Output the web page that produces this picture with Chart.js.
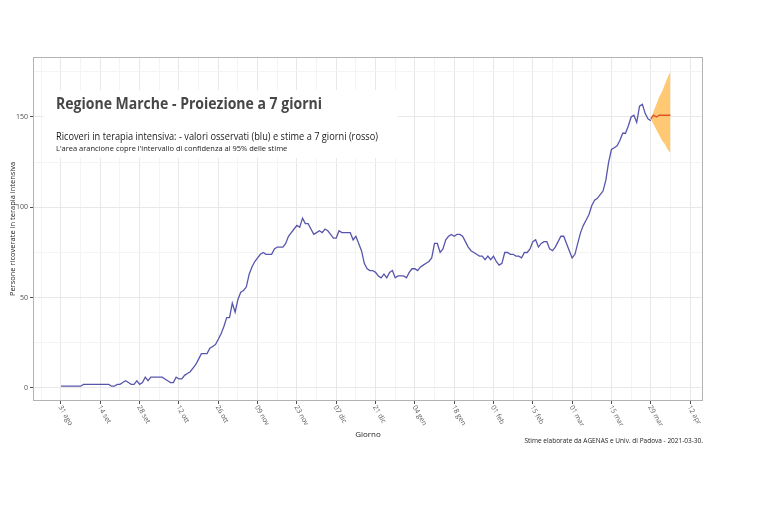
<!DOCTYPE html>
<html><head><meta charset="utf-8">
<script src="https://cdn.jsdelivr.net/npm/chart.js@4.4.0/dist/chart.umd.min.js"></script>
<style>html,body{margin:0;padding:0;background:#fff;}#wrap{position:relative;width:769px;height:513px;}</style>
</head><body><div id="wrap"><canvas id="c" width="769" height="513"></canvas></div>
<script>
// ---- data (days counted from 31 ago 2020) ----
const observedStartDay = 0;
const observed = [
 1,1,1,1,1,1,1,1,
 2,2,2,2,2,2,2,2,2,
 2,1,1,2,2,3,4,3,2,2,4,2,3,6,4,6,6,6,6,6,5,4,3,3,
 6,5,5,7,8,9,11,13,16,19,19,19,22,23,24,27,30,34,39,39,
 47,42,49,53,54,56,63,67,70,72,74,75,74,74,74,77,78,78,78,80,
 84,86,88,90,89,94,91,91,88,85,86,87,86,88,87,85,83,83,87,86,
 86,86,86,82,84,80,76,69,66,65,65,64,62,61,63,61,64,65,61,62,
 62,62,61,64,66,66,65,67,68,69,70,72,80,80,75,77,82,84,85,84,
 85,85,84,81,78,76,75,74,73,73,71,73,71,73,70,68,69,75,75,74,
 74,73,73,72,75,75,77,81,82,78,80,81,81,77,76,78,81,84,84,80,
 76,72,74,80,86,90,93,96,101,104,105,107,109,115,125,132,133,134,137,141,
 141,145,150,151,147,156,157,152,149,148
];
const projDays  = [210,211,212,213,214,215,216,217];
const projMean  = [149,151,150,151,151,151,151,151];
const projUpper = [149,153,157,161,164,168,172,175];
const projLower = [149,146,143,140,137,135,132,130];
const xTickLabels = ['31 ago','14 set','28 set','12 ott','26 ott','09 nov','23 nov','07 dic','21 dic','04 gen','18 gen','01 feb','15 feb','01 mar','15 mar','29 mar','12 apr'];
const yTickLabels = ['0','50','100','150'];

const titleText = 'Regione Marche - Proiezione a 7 giorni';
const subText1 = 'Ricoveri in terapia intensiva: - valori osservati (blu) e stime a 7 giorni (rosso)';
const subText2 = "L'area arancione copre l'intervallo di confidenza al 95% delle stime";
const captionText = 'Stime elaborate da AGENAS e Univ. di Padova - 2021-03-30.';

const obsPts = observed.map((v, i) => ({x: observedStartDay + i, y: v}));
const meanPts = projDays.map((d, i) => ({x: d, y: projMean[i]}));
const upPts = projDays.map((d, i) => ({x: d, y: projUpper[i]}));
const loPts = projDays.map((d, i) => ({x: d, y: projLower[i]}));

const FONT = "'Open Sans', 'DejaVu Sans', sans-serif";

const overlay = {
  id: 'overlay',
  beforeDatasetsDraw(chart) {
    const ctx = chart.ctx;
    ctx.save();
    ctx.fillStyle = '#ffffff';
    ctx.fillRect(44, 90, 354, 68);
    ctx.textAlign = 'left';
    ctx.textBaseline = 'alphabetic';
    ctx.fillStyle = '#474747';
    ctx.font = "bold 16px " + FONT;
    ctx.fillText(titleText, 56, 109, 266);
    ctx.fillStyle = '#1a1a1a';
    ctx.font = "10.5px " + FONT;
    ctx.fillText(subText1, 56, 140, 322);
    ctx.font = "7.5px " + FONT;
    ctx.fillText(subText2, 56, 151, 232);
    ctx.restore();
  },
  afterDraw(chart) {
    const ctx = chart.ctx;
    const a = chart.chartArea;
    const xs = chart.scales.x;
    ctx.save();
    // panel border
    ctx.strokeStyle = '#b3b3b3';
    ctx.lineWidth = 1;
    ctx.strokeRect(a.left + 0.5, a.top + 0.5, a.right - a.left - 1, a.bottom - a.top - 1);
    // rotated x tick labels
    ctx.fillStyle = '#5a5a5a';
    ctx.font = "7px " + FONT;
    ctx.textAlign = 'left';
    ctx.textBaseline = 'middle';
    xTickLabels.forEach((lab, i) => {
      const px = xs.getPixelForValue(i * 14);
      ctx.save();
      ctx.translate(px - 1, a.bottom + 5);
      ctx.rotate(60 * Math.PI / 180);
      ctx.fillText(lab, 0, 0);
      ctx.restore();
    });
    // caption
    ctx.fillStyle = '#1a1a1a';
    ctx.font = "6.5px " + FONT;
    ctx.textAlign = 'right';
    ctx.textBaseline = 'alphabetic';
    ctx.fillText(captionText, a.right, 443);
    ctx.restore();
  }
};

const xGrid = [];
for (let v = -7; v <= 228; v += 7) xGrid.push(v);
const yGrid = [];
for (let v = 0; v <= 183; v += 25) yGrid.push(v);

new Chart(document.getElementById('c'), {
  type: 'line',
  data: {
    datasets: [
      {label: 'stime', data: meanPts, borderColor: 'rgb(226,83,45)', borderWidth: 1.4, pointRadius: 0, fill: false, tension: 0},
      {label: 'osservati', data: obsPts, borderColor: 'rgb(88,86,172)', borderWidth: 1.3, pointRadius: 0, fill: false, tension: 0},
      {label: 'upper', data: upPts, borderWidth: 0, borderColor: 'rgba(0,0,0,0)', pointRadius: 0, fill: '+1', backgroundColor: 'rgba(253,180,60,0.72)', tension: 0},
      {label: 'lower', data: loPts, borderWidth: 0, borderColor: 'rgba(0,0,0,0)', pointRadius: 0, fill: false, tension: 0}
    ]
  },
  options: {
    responsive: false,
    animation: false,
    devicePixelRatio: 1,
    layout: {padding: {left: 0, top: 57, right: 66, bottom: 67}},
    plugins: {legend: {display: false}, tooltip: {enabled: false}, title: {display: false}},
    scales: {
      x: {
        type: 'linear', min: -9.97, max: 228.6,
        afterBuildTicks: s => { s.ticks = xGrid.map(v => ({value: v})); },
        afterFit: s => { s.height = 45; },
        ticks: {display: false},
        border: {display: false},
        grid: {
          color: c => (c.tick && c.tick.value % 14 === 0) ? '#e8e8e8' : '#f4f4f4',
          tickColor: c => (c.tick && c.tick.value % 14 === 0) ? '#4d4d4d' : 'rgba(0,0,0,0)',
          tickLength: 3, drawTicks: true, lineWidth: 1
        },
        title: {display: true, text: 'Giorno', color: '#1a1a1a', font: {family: FONT, size: 8}, padding: {top: 0, bottom: 6}}
      },
      y: {
        type: 'linear', min: -7.2, max: 183.2,
        afterBuildTicks: s => { s.ticks = yGrid.map(v => ({value: v})); },
        afterFit: s => { s.width = 33; },
        ticks: {
          color: '#4d4d4d', font: {family: FONT, size: 7}, padding: 2,
          callback: v => (v % 50 === 0) ? yTickLabels[v / 50] : ''
        },
        border: {display: false},
        grid: {
          color: c => (c.tick && c.tick.value % 50 === 0) ? '#e8e8e8' : '#f4f4f4',
          tickColor: c => (c.tick && c.tick.value % 50 === 0) ? '#4d4d4d' : 'rgba(0,0,0,0)',
          tickLength: 3, drawTicks: true, lineWidth: 1
        },
        title: {display: true, text: 'Persone ricoverate in terapia intensiva', color: '#1a1a1a', font: {family: FONT, size: 7.5}, padding: {top: 8, bottom: 0}}
      }
    }
  },
  plugins: [overlay]
});
</script>
</body></html>
